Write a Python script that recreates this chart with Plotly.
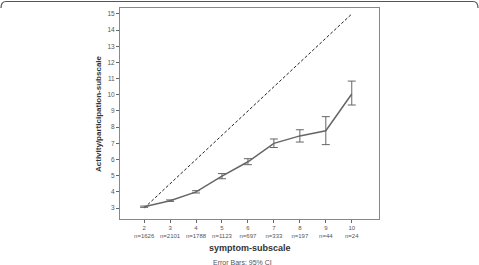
import plotly.graph_objects as go

x_vals = [2, 3, 4, 5, 6, 7, 8, 9, 10]
n_vals = [1626, 2101, 1788, 1123, 697, 333, 197, 44, 24]
means = [3.08, 3.45, 4.0, 4.97, 5.86, 7.0, 7.46, 7.78, 10.05]
ci_low = [3.04, 3.41, 3.93, 4.81, 5.68, 6.74, 7.08, 6.92, 9.37]
ci_high = [3.12, 3.50, 4.07, 5.13, 6.05, 7.27, 7.84, 8.65, 10.85]
ref_x = [2, 10]
ref_y = [3, 15]
tick_text = [f"{x}<br>n={n}" for x, n in zip(x_vals, n_vals)]

W, H = 479, 265
L, R, T, B = 120, 379, 8, 219

fig = go.Figure()
fig.add_trace(go.Scatter(
    x=ref_x, y=ref_y, mode="lines",
    line=dict(color="#222", width=1, dash="3px,2px"), hoverinfo="skip"))
fig.add_trace(go.Scatter(
    x=x_vals, y=means, mode="lines",
    line=dict(color="#666", width=1.5),
    error_y=dict(type="data", symmetric=False,
                 array=[h - m for h, m in zip(ci_high, means)],
                 arrayminus=[m - l for m, l in zip(means, ci_low)],
                 color="#666", thickness=1, width=4)))

fig.update_layout(
    width=W, height=H,
    margin=dict(l=L, r=W - R, t=T, b=H - B),
    paper_bgcolor="white", plot_bgcolor="white",
    showlegend=False,
    font=dict(family="Liberation Sans, Arial, sans-serif", color="#555"),
    xaxis=dict(range=[1.07, 11.05], tickmode="array", tickvals=x_vals, ticktext=tick_text,
               showgrid=False, zeroline=False, showline=True, linecolor="#888", linewidth=1,
               mirror=True, ticks="outside", ticklen=3, tickcolor="#666",
               tickfont=dict(size=6, color="#555")),
    yaxis=dict(range=[2.32, 15.37], tickvals=list(range(3, 16)),
               showgrid=False, zeroline=False, showline=True, linecolor="#888", linewidth=1,
               mirror=True, ticks="outside", ticklen=3, tickcolor="#666",
               tickfont=dict(size=6.5, color="#555")),
)

def px(xp):
    return (xp - L) / (R - L)

def py(yp):
    return (B - yp) / (B - T)

fig.add_annotation(text="<b>symptom-subscale</b>", x=px(250), y=py(247.5), xref="paper", yref="paper",
                   showarrow=False, font=dict(size=9, color="#333"), xanchor="center", yanchor="middle")
fig.add_annotation(text="Error Bars: 95% CI", x=px(242), y=py(262), xref="paper", yref="paper",
                   showarrow=False, font=dict(size=7, color="#555"), xanchor="center", yanchor="middle")
fig.add_annotation(text="<b>Activity/participation-subscale</b>", x=px(98), y=py(114), xref="paper", yref="paper",
                   showarrow=False, textangle=-90, font=dict(size=8, color="#333"),
                   xanchor="center", yanchor="middle")

# image frame at top
fig.add_shape(type="path", xref="paper", yref="paper",
              path=f"M {px(1)},{py(8)} Q {px(1)},{py(1.5)} {px(6)},{py(1.5)} L {px(473)},{py(1.5)} Q {px(478)},{py(1.5)} {px(478)},{py(8)}",
              line=dict(color="#555", width=1.2))

fig.write_html("out.html")
